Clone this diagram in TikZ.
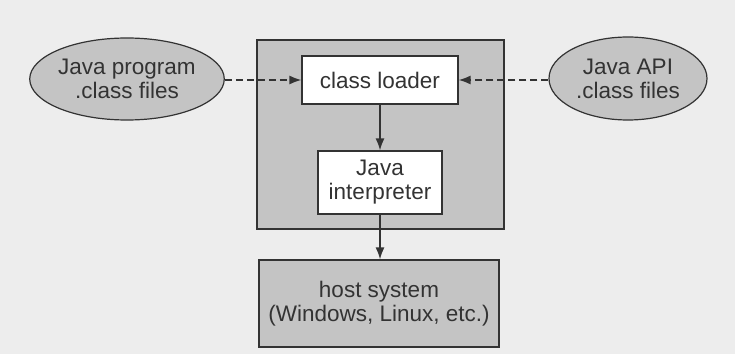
\documentclass[tikz,border=0pt]{standalone}
\usepackage{fontspec}
\setmainfont{Liberation Sans}
\usetikzlibrary{shapes.geometric,arrows.meta}
\definecolor{ink}{HTML}{333333}
\definecolor{shade}{HTML}{C4C4C4}
\definecolor{paper}{HTML}{EDEDED}
\tikzset{
  box/.style={draw=ink,line width=1.2pt,align=center,text=ink,inner sep=0pt,
    font=\fontsize{22.5}{24}\selectfont},
  blob/.style={box,ellipse,fill=shade},
  flow/.style={draw=ink,line width=1.6pt,-{Latex[length=12pt,width=9pt]}},
  load/.style={flow,dash pattern=on 7pt off 4pt}
}
\begin{document}
\begin{tikzpicture}[x=1pt,y=1pt]
	\fill[color=paper] (0,0) rectangle (735,354);
	\useasboundingbox (0,0) rectangle (735,354);
	\node[box,fill=shade,minimum width=247pt,minimum height=189pt] (jvm) at (380.5,219.5) {};
	\node[box,fill=white,minimum width=156pt,minimum height=48pt] (loader) at (380,274) {class loader};
	\node[box,fill=white,minimum width=124pt,minimum height=63pt] (interp) at (380,171.5) {Java\\interpreter};
	\node[box,fill=shade,minimum width=240pt,minimum height=87pt] (host) at (379,50.5) {host system\\(Windows, Linux, etc.)};
	\node[blob,minimum width=162pt,minimum height=82pt] (prog) at (127,275) {Java program\\.class files};
	\node[blob,minimum width=158pt,minimum height=83pt] (api) at (628,275.5) {Java API\\.class files};
	\draw[load] (prog.east |- 0,274) -- (loader.west);
	\draw[load] (api.west |- 0,274) -- (loader.east);
	\draw[flow] (loader) -- (interp);
	\draw[flow] (interp) -- (interp |- host.north);
\end{tikzpicture}
\end{document}
